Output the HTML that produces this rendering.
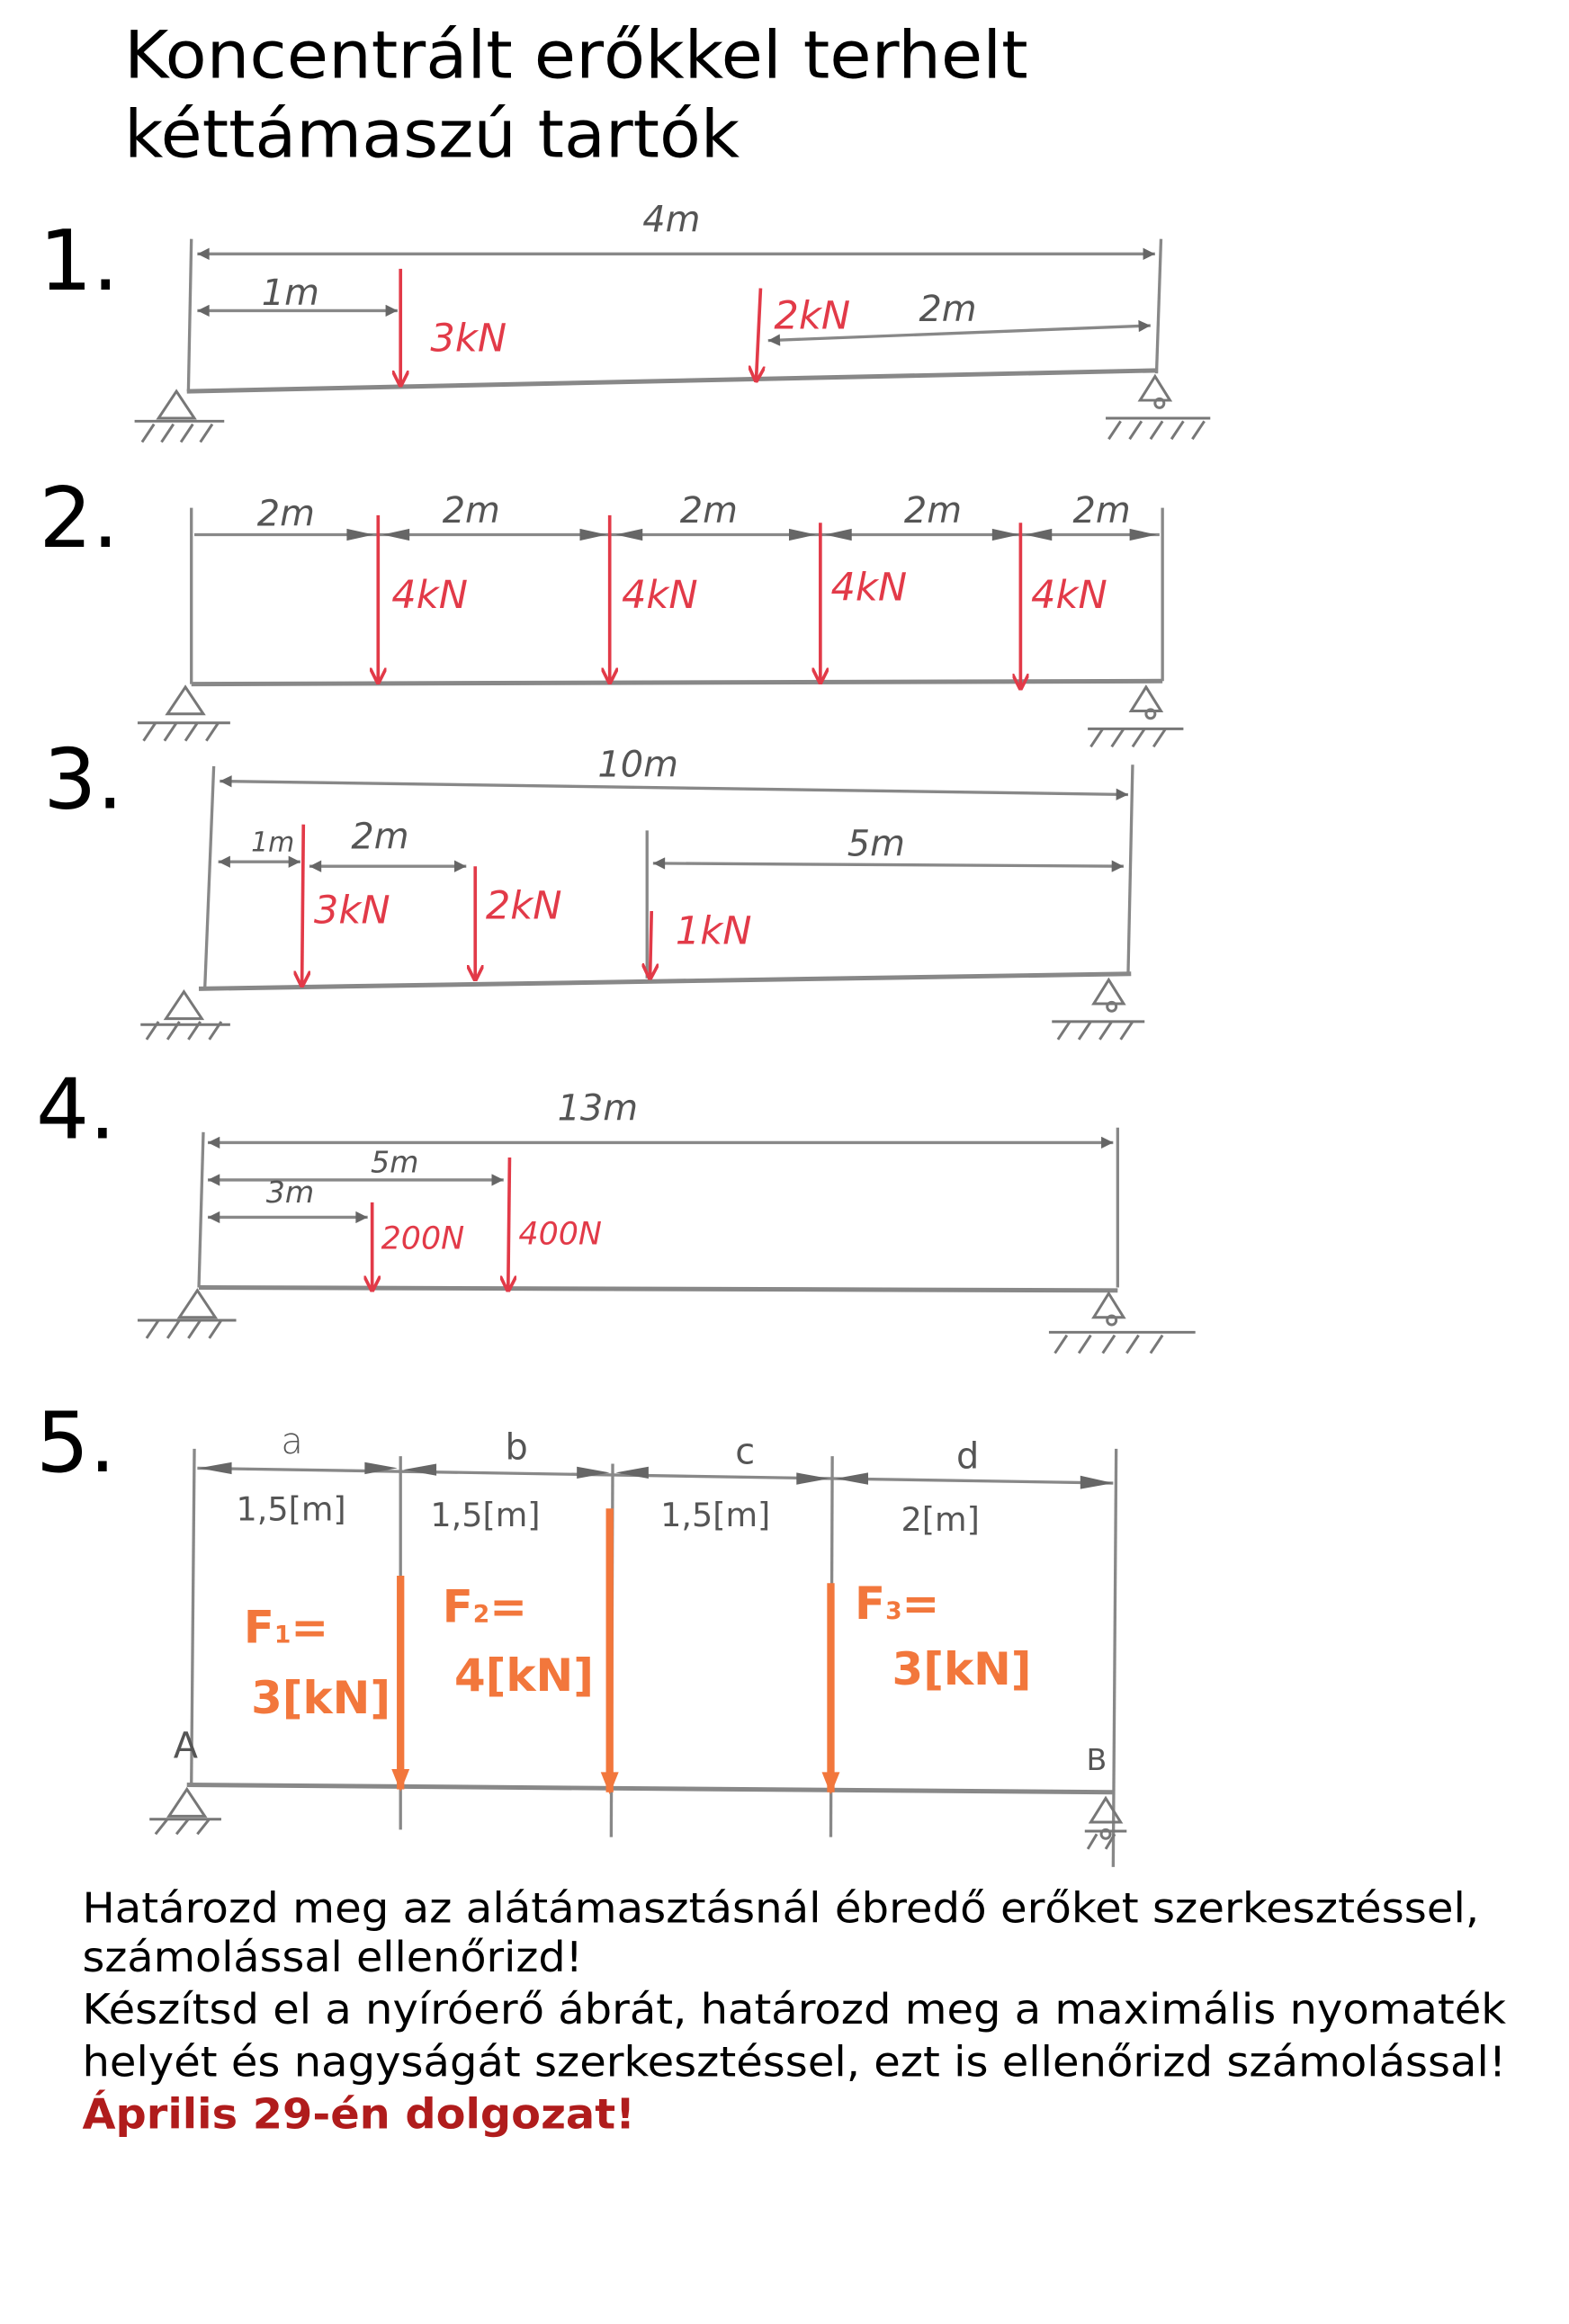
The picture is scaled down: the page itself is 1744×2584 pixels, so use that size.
<!DOCTYPE html>
<html><head><meta charset="utf-8"><style>
html,body{margin:0;padding:0;background:#fff;}
svg{display:block;}
</style></head><body>
<svg width="1744" height="2584" viewBox="0 0 1050 1556" xmlns="http://www.w3.org/2000/svg">
<defs>
<marker id="ga" viewBox="0 0 10 10" refX="10" refY="5" markerWidth="6" markerHeight="4" orient="auto-start-reverse"><path d="M0,0L10,5L0,10z" fill="#666"/></marker>
<marker id="ra" viewBox="0 0 10 10" refX="9" refY="5" markerWidth="5" markerHeight="5" orient="auto"><path d="M0,0L10,5L0,10" fill="none" stroke="#e23a48" stroke-width="2"/></marker>
<marker id="oa" viewBox="0 0 10 10" refX="9" refY="5" markerWidth="4" markerHeight="3" orient="auto"><path d="M0,1L10,5L0,9z" fill="#f2773c"/></marker>
</defs>
<rect width="1050" height="1556" fill="#fff"/>
<g font-family="'DejaVu Sans','Liberation Sans',sans-serif" fill="#000">
<text x="83" y="52" font-size="44" textLength="605" lengthAdjust="spacingAndGlyphs">Koncentrált erőkkel terhelt</text>
<text x="83" y="105" font-size="44" textLength="412" lengthAdjust="spacingAndGlyphs">kéttámaszú tartók</text>
<text x="26" y="194" font-size="56">1.</text>
<text x="26" y="366" font-size="56">2.</text>
<text x="29" y="541" font-size="56">3.</text>
<text x="24" y="762" font-size="56">4.</text>
<text x="24" y="985" font-size="56">5.</text>
<g font-size="28">
<text x="55" y="1287" textLength="935" lengthAdjust="spacingAndGlyphs">Határozd meg az alátámasztásnál ébredő erőket szerkesztéssel,</text>
<text x="55" y="1320" textLength="335" lengthAdjust="spacingAndGlyphs">számolással ellenőrizd!</text>
<text x="55" y="1355" textLength="953" lengthAdjust="spacingAndGlyphs">Készítsd el a nyíróerő ábrát, határozd meg a maximális nyomaték</text>
<text x="55" y="1390" textLength="953" lengthAdjust="spacingAndGlyphs">helyét és nagyságát szerkesztéssel, ezt is ellenőrizd számolással!</text>
<text x="55" y="1425" font-weight="bold" fill="#b01c1c" textLength="370" lengthAdjust="spacingAndGlyphs">Április 29-én dolgozat!</text>
</g>
</g>
<!-- pencil -->
<g stroke="#888" stroke-width="2" fill="none" font-family="'DejaVu Sans',sans-serif">
<!-- D1 -->
<line x1="125" y1="262" x2="775" y2="248" stroke-width="3"/>
<line x1="128" y1="160" x2="126" y2="262"/><line x1="777" y1="160" x2="774" y2="250"/>
<line x1="132" y1="170" x2="773" y2="170" marker-start="url(#ga)" marker-end="url(#ga)"/>
<line x1="132" y1="208" x2="266" y2="208" marker-start="url(#ga)" marker-end="url(#ga)"/>
<line x1="514" y1="228" x2="770" y2="218" marker-start="url(#ga)" marker-end="url(#ga)"/>
<!-- D2 -->
<line x1="128" y1="458" x2="778" y2="456" stroke-width="3"/>
<line x1="128" y1="340" x2="128" y2="458"/><line x1="778" y1="340" x2="778" y2="456"/>
<line x1="130" y1="358" x2="776" y2="358"/>
<path d="M232,354l18,4l-18,4zM274,354l-18,4l18,4zM388,354l18,4l-18,4zM430,354l-18,4l18,4zM528,354l18,4l-18,4zM570,354l-18,4l18,4zM664,354l18,4l-18,4zM704,354l-18,4l18,4zM756,354l18,4l-18,4z" fill="#666" stroke="none"/>
<!-- D3 -->
<line x1="133" y1="662" x2="757" y2="652" stroke-width="3"/>
<line x1="143" y1="513" x2="137" y2="662"/><line x1="758" y1="512" x2="755" y2="652"/>
<line x1="147" y1="523" x2="755" y2="532" marker-start="url(#ga)" marker-end="url(#ga)"/>
<line x1="146" y1="577" x2="201" y2="577" marker-start="url(#ga)" marker-end="url(#ga)"/>
<line x1="207" y1="580" x2="312" y2="580" marker-start="url(#ga)" marker-end="url(#ga)"/>
<line x1="433" y1="556" x2="433" y2="655"/>
<line x1="437" y1="578" x2="752" y2="580" marker-start="url(#ga)" marker-end="url(#ga)"/>
<!-- D4 -->
<line x1="133" y1="862" x2="748" y2="864" stroke-width="3"/>
<line x1="136" y1="758" x2="133" y2="862"/><line x1="748" y1="755" x2="748" y2="862"/>
<line x1="139" y1="765" x2="745" y2="765" marker-start="url(#ga)" marker-end="url(#ga)"/>
<line x1="139" y1="790" x2="337" y2="790" marker-start="url(#ga)" marker-end="url(#ga)"/>
<line x1="139" y1="815" x2="246" y2="815" marker-start="url(#ga)" marker-end="url(#ga)"/>
<!-- D5 -->
<line x1="125" y1="1195" x2="745" y2="1200" stroke-width="3"/>
<line x1="130" y1="970" x2="128" y2="1195"/><line x1="268" y1="975" x2="268" y2="1225"/>
<line x1="410" y1="980" x2="409" y2="1230"/><line x1="557" y1="975" x2="556" y2="1230"/>
<line x1="747" y1="970" x2="745" y2="1250"/>
<line x1="132" y1="983" x2="745" y2="993"/>
<path d="M133,983l22,-4l0,8zM266,983l-22,-4l0,8zM270,984l22,-4l0,8zM408,986l-22,-4l0,8zM412,986l22,-4l0,8zM555,990l-22,-4l0,8zM559,990l22,-4l0,8zM745,993l-22,-5l0,9z" fill="#666" stroke="none"/>
<!-- supports -->
<g stroke="#777" stroke-width="1.8">
<path d="M118,262l-12,18h24z M90,282h60 M95,296l8,-12 M108,296l8,-12 M121,296l8,-12 M134,296l8,-12"/>
<path d="M773,252l-10,16h20z M740,280h70 M742,294l8,-12 M756,294l8,-12 M770,294l8,-12 M784,294l8,-12 M798,294l8,-12"/><circle cx="776" cy="270" r="3"/>
<path d="M124,460l-12,18h24z M92,484h62 M96,496l8,-12 M110,496l8,-12 M124,496l8,-12 M138,496l8,-12"/>
<path d="M767,460l-10,16h20z M728,488h64 M730,500l8,-12 M744,500l8,-12 M758,500l8,-12 M772,500l8,-12"/><circle cx="770" cy="478" r="3"/>
<path d="M123,664l-12,18h24z M94,686h60 M98,696l8,-12 M112,696l8,-12 M126,696l8,-12 M140,696l8,-12"/>
<path d="M742,656l-10,16h20z M704,684h62 M708,696l8,-12 M722,696l8,-12 M736,696l8,-12 M750,696l8,-12"/><circle cx="744" cy="674" r="3"/>
<path d="M132,864l-12,18h24z M92,884h66 M98,896l8,-12 M112,896l8,-12 M126,896l8,-12 M140,896l8,-12"/>
<path d="M742,866l-10,16h20z M702,892h98 M706,906l8,-12 M722,906l8,-12 M738,906l8,-12 M754,906l8,-12 M770,906l8,-12"/><circle cx="744" cy="884" r="3"/>
<path d="M125,1198l-12,18h24z M100,1218h48 M104,1228l8,-10 M118,1228l8,-10 M132,1228l8,-10"/>
<path d="M740,1204l-10,16h20z M726,1226h28 M728,1238l6,-10 M740,1238l6,-10"/><circle cx="740" cy="1228" r="3"/>
</g>
<g fill="#555" stroke="none" font-size="24" font-style="italic">
<text x="430" y="155">4m</text><text x="175" y="204">1m</text><text x="615" y="215">2m</text>
<text x="172" y="352">2m</text><text x="296" y="350">2m</text><text x="455" y="350">2m</text><text x="605" y="350">2m</text><text x="718" y="350">2m</text>
<text x="400" y="520">10m</text><text x="168" y="570" font-size="18">1m</text><text x="235" y="568">2m</text><text x="567" y="573">5m</text>
<text x="373" y="750">13m</text><text x="248" y="785" font-size="20">5m</text><text x="178" y="805" font-size="20">3m</text>
<text x="188" y="973" font-style="normal" font-weight="300">a</text><text x="338" y="977" font-style="normal">b</text><text x="492" y="980" font-style="normal">c</text><text x="640" y="983" font-style="normal">d</text>
<g font-size="22" font-style="normal"><text x="158" y="1018">1,5[m]</text><text x="288" y="1022">1,5[m]</text><text x="442" y="1022">1,5[m]</text><text x="603" y="1025">2[m]</text></g>
<text x="116" y="1177" font-style="normal">A</text><text x="727" y="1185" font-style="normal" font-size="20">B</text>
</g>
</g>
<!-- red forces -->
<g stroke="#e23a48" stroke-width="2.2" marker-end="url(#ra)">
<line x1="268" y1="180" x2="268" y2="258"/>
<line x1="509" y1="193" x2="506" y2="255"/>
<line x1="253" y1="345" x2="253" y2="457"/>
<line x1="408" y1="345" x2="408" y2="457"/>
<line x1="549" y1="350" x2="549" y2="457"/>
<line x1="683" y1="350" x2="683" y2="461"/>
<line x1="203" y1="552" x2="202" y2="660"/>
<line x1="318" y1="580" x2="318" y2="656"/>
<line x1="436" y1="610" x2="435" y2="655"/>
<line x1="249" y1="805" x2="249" y2="864"/>
<line x1="341" y1="775" x2="340" y2="864"/>
</g>
<g fill="#e23a48" font-family="'DejaVu Sans',sans-serif" font-size="26" font-style="italic">
<text x="288" y="235">3kN</text><text x="518" y="220">2kN</text>
<text x="262" y="407">4kN</text><text x="416" y="407">4kN</text><text x="556" y="402">4kN</text><text x="690" y="407">4kN</text>
<text x="210" y="618">3kN</text><text x="325" y="615">2kN</text><text x="452" y="632">1kN</text>
<text x="255" y="836" font-size="21">200N</text><text x="347" y="833" font-size="21">400N</text>
</g>
<!-- orange forces -->
<g stroke="#f2773c" stroke-width="5" marker-end="url(#oa)">
<line x1="268" y1="1055" x2="268" y2="1198"/>
<line x1="408" y1="1010" x2="408" y2="1200"/>
<line x1="556" y1="1060" x2="556" y2="1200"/>
</g>
<g fill="#f2773c" font-family="'DejaVu Sans',sans-serif" font-size="30" font-weight="bold">
<text x="163" y="1100">F<tspan font-size="16">1</tspan>=</text><text x="168" y="1147">3[kN]</text>
<text x="296" y="1086">F<tspan font-size="16">2</tspan>=</text><text x="304" y="1132">4[kN]</text>
<text x="572" y="1084">F<tspan font-size="16">3</tspan>=</text><text x="597" y="1128">3[kN]</text>
</g>
</svg>
</body></html>
